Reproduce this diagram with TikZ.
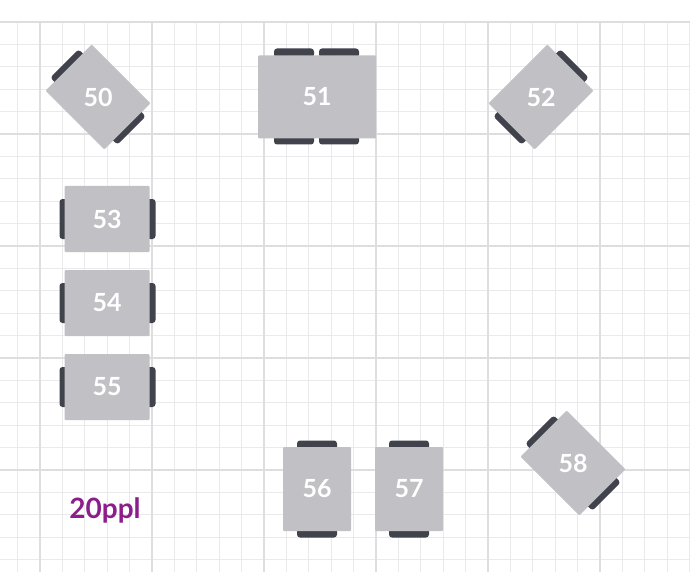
\documentclass[tikz,border=0pt]{standalone}
\usepackage{fontspec}
\setmainfont{Lato}[BoldFont={Lato Bold}]
\usetikzlibrary{calc}
\definecolor{gridminor}{RGB}{234,234,236}
\definecolor{gridmajor}{RGB}{222,222,225}
\definecolor{tablegray}{RGB}{192,192,197}
\definecolor{chairdark}{RGB}{64,66,76}
\definecolor{pplpurple}{RGB}{140,30,140}
\tikzset{
  tbl/.style={fill=tablegray, rounded corners=1pt, inner sep=0pt},
  chair/.style={fill=chairdark, rounded corners=3pt, minimum width=9pt, minimum height=40pt, inner sep=0pt},
  num/.style={text=white, font=\fontsize{25}{25}\selectfont\bfseries}
}
\begin{document}
\begin{tikzpicture}[x=1pt, y=-1pt]
  \useasboundingbox (0,0) rectangle (690,572);
  % grid
  \foreach \i in {1,...,31} {
    \draw[gridminor, line width=1pt] ({-4.8+22.4*\i},22) -- ({-4.8+22.4*\i},572);
  }
  \foreach \j in {0,...,24} {
    \draw[gridminor, line width=1pt] (0,{22+22.4*\j}) -- (690,{22+22.4*\j});
  }
  \foreach \i in {0,...,5} {
    \draw[gridmajor, line width=1.3pt] ({40+112*\i},22) -- ({40+112*\i},572);
  }
  \foreach \j in {0,...,4} {
    \draw[gridmajor, line width=1.3pt] (0,{22+112*\j}) -- (690,{22+112*\j});
  }

  % rotated tables, chairs at the short ends
  \foreach \nm/\cx/\cy/\ang in {50/98/97/-45, 52/541/97/45, 58/573/463/-45} {
    \node[tbl, rotate=\ang, minimum width=83pt, minimum height=65pt] (t\nm) at (\cx,\cy) {};
    \node[chair, rotate=\ang] (t\nm a) at ($(t\nm.center)!1.03!(t\nm.west)$) {};
    \node[chair, rotate=\ang] (t\nm b) at ($(t\nm.center)!1.03!(t\nm.east)$) {};
    \node[tbl, rotate=\ang, minimum width=83pt, minimum height=65pt] at (t\nm) {};
    \node[num] at (t\nm) {\nm};
  }

  % table 51
  \foreach \cx in {294,339} {
    \node[chair, rotate=90] at (\cx,53) {};
    \node[chair, rotate=90] at (\cx,140) {};
  }
  \node[tbl, minimum width=118pt, minimum height=83pt] (t51) at (317,97) {};
  \node[num] at (t51) {51};

  % tables 53-55
  \foreach \nm/\cy in {53/219, 54/303, 55/387} {
    \node[chair] at (64,\cy) {};
    \node[chair] at (151,\cy) {};
    \node[tbl, minimum width=85pt, minimum height=66pt] (t\nm) at (107,\cy) {};
    \node[num] at (t\nm) {\nm};
  }

  % tables 56-57
  \foreach \nm/\cx in {56/317, 57/409} {
    \node[chair, rotate=90] at (\cx,445) {};
    \node[chair, rotate=90] at (\cx,533) {};
    \node[tbl, minimum width=68pt, minimum height=84pt] (t\nm) at (\cx,489) {};
    \node[num] at (t\nm) {\nm};
  }

  \node[text=pplpurple, font=\fontsize{28}{28}\selectfont\bfseries] (ppl) at (105,510) {20ppl};
\end{tikzpicture}
\end{document}
